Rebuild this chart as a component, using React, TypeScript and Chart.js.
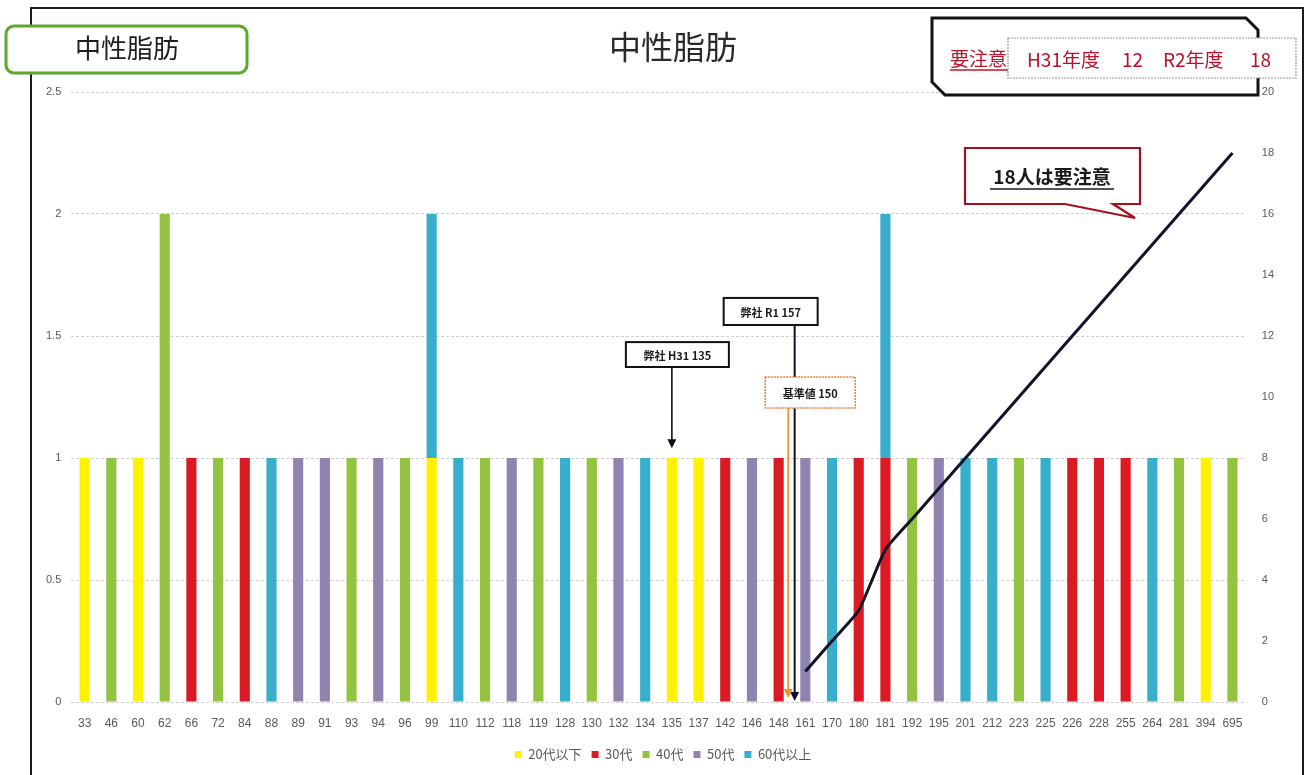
import React, { useEffect, useRef } from "react";
import { Chart, registerables } from "chart.js";

Chart.register(...registerables);

const categories = ["33","46","60","62","66","72","84","88","89","91","93","94","96","99","110","112","118","119","128","130","132","134","135","137","142","146","148","161","170","180","181","192","195","201","212","223","225","226","228","255","264","281","394","695"];

const seriesNames = ["20代以下", "30代", "40代", "50代", "60代以上"];
const seriesColors = ["#FFF200", "#DC1A24", "#94C43F", "#9183B0", "#38AECD"];

const age20 = [
  1, null, 1, null, null, null, null, null, null, null, null,
  null, null, 1, null, null, null, null, null, null, null, null,
  1, 1, null, null, null, null, null, null, null, null, null,
  null, null, null, null, null, null, null, null, null, 1, null,
];
const age30 = [
  null, null, null, null, 1, null, 1, null, null, null, null,
  null, null, null, null, null, null, null, null, null, null, null,
  null, null, 1, null, 1, null, null, 1, 1, null, null,
  null, null, null, null, 1, 1, 1, null, null, null, null,
];
const age40 = [
  null, 1, null, 2, null, 1, null, null, null, null, 1,
  null, 1, null, null, 1, null, 1, null, 1, null, null,
  null, null, null, null, null, null, null, null, null, 1, null,
  null, null, 1, null, null, null, null, null, 1, null, 1,
];
const age50 = [
  null, null, null, null, null, null, null, null, 1, 1, null,
  1, null, null, null, null, 1, null, null, null, 1, null,
  null, null, null, 1, null, 1, null, null, null, null, 1,
  null, null, null, null, null, null, null, null, null, null, null,
];
const age60 = [
  null, null, null, null, null, null, null, 1, null, null, null,
  null, null, 1, 1, null, null, null, 1, null, null, 1,
  null, null, null, null, null, null, 1, null, 1, null, null,
  1, 1, null, 1, null, null, null, 1, null, null, null,
];
const cautionCount = [
  null, null, null, null, null, null, null, null, null, null, null,
  null, null, null, null, null, null, null, null, null, null, null,
  null, null, null, null, null, 1, 2, 3, 5, 6, 7,
  8, 9, 10, 11, 12, 13, 14, 15, 16, 17, 18,
];

const leftTicksMax = 2.5;
const rightTicksMax = 20;

// annotation anchors (category positions)
const h31Label = "弊社 H31 135";
const h31Category = "135";
const r1Label = "弊社 R1 157";
const r1Position = 26.6;
const kijunLabel = "基準値 150";
const kijunPosition = 26.36;

const JP = '"Noto Sans CJK JP", "Noto Sans", sans-serif';

function drawArrow(ctx: CanvasRenderingContext2D, x: number, y1: number, y2: number, color: string, w: number) {
  ctx.save();
  ctx.strokeStyle = color;
  ctx.fillStyle = color;
  ctx.lineWidth = w;
  ctx.beginPath();
  ctx.moveTo(x, y1);
  ctx.lineTo(x, y2 - 8);
  ctx.stroke();
  ctx.beginPath();
  ctx.moveTo(x - 4.5, y2 - 9);
  ctx.lineTo(x + 4.5, y2 - 9);
  ctx.lineTo(x, y2);
  ctx.closePath();
  ctx.fill();
  ctx.restore();
}

function drawBox(ctx: CanvasRenderingContext2D, l: number, t: number, w: number, h: number, text: string, stroke: string, dashed: boolean) {
  ctx.save();
  ctx.fillStyle = "#ffffff";
  ctx.fillRect(l, t, w, h);
  ctx.strokeStyle = stroke;
  ctx.lineWidth = dashed ? 1.5 : 2;
  if (dashed) ctx.setLineDash([2, 1]);
  ctx.strokeRect(l, t, w, h);
  ctx.setLineDash([]);
  ctx.fillStyle = "#1a1a1a";
  ctx.font = `bold 11px ${JP}`;
  ctx.textAlign = "center";
  ctx.textBaseline = "middle";
  ctx.fillText(text, l + w / 2, t + h / 2 + 1);
  ctx.restore();
}

const annotPlugin = {
  id: "annot",
  afterDatasetsDraw(chart: any) {
    const { ctx } = chart;
    const x = chart.scales.x;
    const y = chart.scales.y;
    const base = y.getPixelForValue(0);
    // H31 135
    const xh = x.getPixelForValue(categories.indexOf(h31Category));
    const hTop = y.getPixelForValue(1.475);
    const hBot = y.getPixelForValue(1.373);
    drawArrow(ctx, xh, hBot, y.getPixelForValue(1.04), "#111", 1.6);
    drawBox(ctx, xh - 46, hTop, 103, hBot - hTop, h31Label, "#111", false);
    // R1 157
    const xr = x.getPixelForValue(r1Position);
    const rTop = y.getPixelForValue(1.656);
    const rBot = y.getPixelForValue(1.545);
    drawArrow(ctx, xr, rBot, base - 1, "#0f1030", 2);
    drawBox(ctx, xr - 71, rTop, 94, rBot - rTop, r1Label, "#111", false);
    // 基準値 150
    const xk = x.getPixelForValue(kijunPosition);
    const kTop = y.getPixelForValue(1.332);
    const kBot = y.getPixelForValue(1.205);
    drawArrow(ctx, xk, kBot, base - 4, "#F0922E", 1.8);
    drawBox(ctx, xk - 23, kTop, 90, kBot - kTop, kijunLabel, "#E8833A", true);
  },
};

export default function App() {
  const ref = useRef<HTMLCanvasElement>(null);
  useEffect(() => {
    document.body.style.margin = "0";
    const series = [age20, age30, age40, age50, age60];
    const chart = new Chart(ref.current!, {
      type: "bar",
      data: {
        labels: categories,
        datasets: [
          {
            type: "line" as const,
            label: "要注意",
            data: cautionCount,
            yAxisID: "y1",
            borderColor: "#121228",
            borderWidth: 3,
            pointRadius: 0,
            tension: 0.15,
            order: 0,
          } as any,
          ...series.map((d, i) => ({
            type: "bar" as const,
            label: seriesNames[i],
            data: d,
            backgroundColor: seriesColors[i],
            borderWidth: 0,
            yAxisID: "y",
            order: 1,
            barPercentage: 0.38,
            categoryPercentage: 1,
          })),
        ],
      },
      options: {
        animation: false,
        responsive: false,
        devicePixelRatio: 1,
        layout: { padding: { left: 36, right: 19, top: 92, bottom: 4 } },
        plugins: {
          title: { display: false },
          tooltip: { enabled: false },
          legend: {
            position: "bottom",
            labels: {
              filter: (item: any) => item.text !== "要注意",
              boxWidth: 7,
              boxHeight: 7,
              padding: 10,
              color: "#595959",
              font: { family: JP, size: 13 },
            },
          },
        },
        scales: {
          x: {
            stacked: true,
            grid: { display: false },
            border: { display: false },
            ticks: { color: "#595959", font: { family: "Liberation Sans", size: 12 }, padding: 6, maxRotation: 0, autoSkip: false },
            afterFit: (s: any) => { s.height = 36; },
          },
          y: {
            stacked: true,
            min: 0,
            max: leftTicksMax,
            position: "left",
            border: { display: false, dash: [3, 2] },
            grid: { color: "#d0d0d0", drawTicks: false },
            ticks: {
              stepSize: 0.5,
              color: "#595959",
              font: { family: "Liberation Sans", size: 11 },
              padding: 10,
              callback: (v: any) => String(Number(v)),
            },
          },
          y1: {
            stacked: false,
            min: 0,
            max: rightTicksMax,
            position: "right",
            border: { display: false },
            grid: { drawOnChartArea: false, drawTicks: false },
            ticks: { stepSize: 2, color: "#595959", font: { family: "Liberation Sans", size: 11 }, padding: 16 },
          },
        },
      },
      plugins: [annotPlugin],
    } as any);
    return () => chart.destroy();
  }, []);

  return (
    <div style={{ position: "relative", width: 1309, height: 775, overflow: "hidden", background: "#fff" }}>
      <canvas ref={ref} width={1309} height={775} style={{ position: "absolute", left: 0, top: 0 }} />
      <svg width={1309} height={775} style={{ position: "absolute", left: 0, top: 0, pointerEvents: "none" }}>
        {/* frame */}
        <polyline points="31,775 31,8 1303,8 1303,775" fill="none" stroke="#1c1c1c" strokeWidth={2} />
        {/* green label box */}
        <rect x={6} y={26} width={241} height={47} rx={8} ry={8} fill="#fff" stroke="#5FA82B" strokeWidth={3} />
        <text x={127} y={58} textAnchor="middle" fontFamily={JP} fontSize={26} fill="#1e1e1e">中性脂肪</text>
        {/* title */}
        <text x={673} y={59} textAnchor="middle" fontFamily={JP} fontSize={32} fill="#2a2a2a">中性脂肪</text>
        {/* top-right box */}
        <polygon points="932,18 1246,18 1258,30 1258,95 945,95 932,82" fill="#fff" stroke="#111" strokeWidth={3} />
        <text x={950} y={66} fontFamily={JP} fontSize={19} fill="#C0142B">要注意</text>
        <line x1={950} y1={70} x2={1008} y2={70} stroke="#C0142B" strokeWidth={1.3} />
        <rect x={1008} y={38} width={288} height={40} fill="#fff" stroke="#9a9a9a" strokeWidth={1.2} strokeDasharray="2,1" />
        <text x={1027} y={67} fontFamily={JP} fontSize={19} fill="#B8102E">H31年度</text>
        <text x={1122} y={67} fontFamily={JP} fontSize={19} fill="#B8102E">12</text>
        <text x={1163} y={67} fontFamily={JP} fontSize={19} fill="#B8102E">R2年度</text>
        <text x={1250} y={67} fontFamily={JP} fontSize={19} fill="#B8102E">18</text>
        {/* callout */}
        <polygon points="965,148 1140,148 1140,204 1113,204 1135,218 1065,204 965,204" fill="#fff" stroke="#A3101E" strokeWidth={2.2} />
        <text x={1052} y={184} textAnchor="middle" fontFamily={JP} fontSize={19} fontWeight="bold" fill="#1a1a1a">18人は要注意</text>
        <line x1={990} y1={189} x2={1114} y2={189} stroke="#1a1a1a" strokeWidth={1.5} />
      </svg>
    </div>
  );
}
